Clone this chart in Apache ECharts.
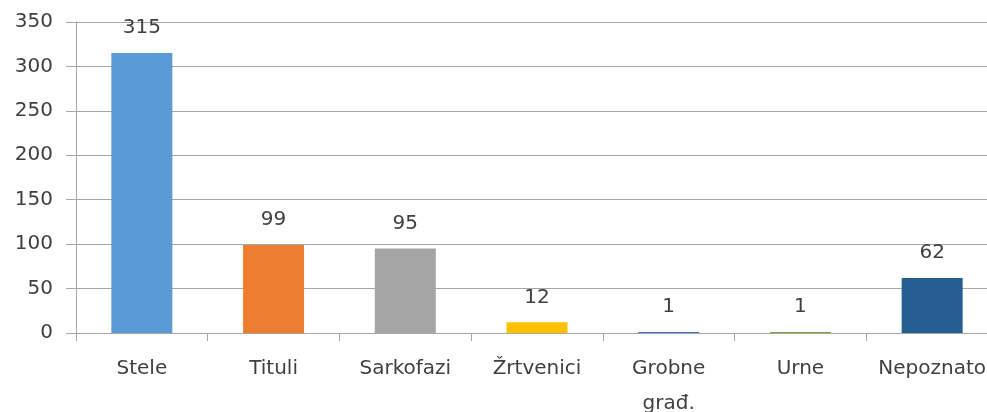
<!DOCTYPE html>
<html><head><meta charset="utf-8">
<script src="https://cdn.jsdelivr.net/npm/echarts@6/dist/echarts.min.js"></script>
<style>html,body{margin:0;padding:0;background:#fff}#c{width:987px;height:412px}</style>
</head><body><div id="c"></div>
<script>
const categories = ['Stele', 'Tituli', 'Sarkofazi', 'Žrtvenici', 'Grobne\ngrađ.', 'Urne', 'Nepoznato'];
const values = [315, 99, 95, 12, 1, 1, 62];
const colors = ['#5B9BD5', '#ED7D31', '#A5A5A5', '#FFC000', '#4472C4', '#70AD47', '#255E91'];
const yTicks = { min: 0, max: 350, interval: 50 };

const chart = echarts.init(document.getElementById('c'), null, { renderer: 'canvas' });
const font = 'DejaVu Sans';
chart.setOption({
  animation: false,
  grid: { left: 76, top: 22, width: 922, bottom: 79, containLabel: false, outerBoundsMode: 'none' },
  xAxis: {
    type: 'category', data: categories,
    axisLine: { lineStyle: { color: '#a6a6a6', width: 1 } },
    axisTick: { show: true, length: 8, lineStyle: { color: '#a6a6a6' } },
    axisLabel: { color: '#404040', fontFamily: font, fontSize: 20, margin: 18, lineHeight: 35, interval: 0 }
  },
  yAxis: {
    type: 'value', min: yTicks.min, max: yTicks.max, interval: yTicks.interval,
    axisLine: { show: true, lineStyle: { color: '#a6a6a6', width: 1 } },
    axisTick: { show: true, length: 10, inside: false, lineStyle: { color: '#a6a6a6' } },
    splitLine: { lineStyle: { color: '#a6a6a6', width: 1 } },
    axisLabel: { color: '#404040', fontFamily: font, fontSize: 20, margin: 23 }
  },
  series: [{
    type: 'bar',
    data: values.map((v, i) => ({ value: v, itemStyle: { color: colors[i] } })),
    barWidth: 61,
    label: { show: true, position: 'top', distance: 15, color: '#404040', fontFamily: font, fontSize: 20 }
  }]
});
</script></body></html>
